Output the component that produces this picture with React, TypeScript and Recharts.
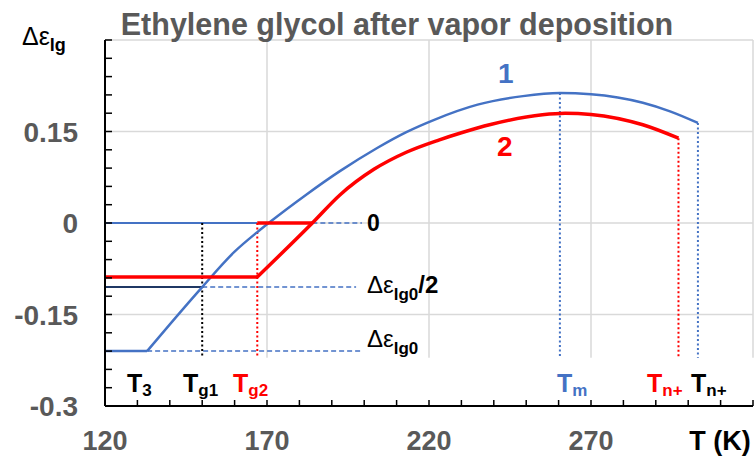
import React from 'react';
import { ComposedChart, Line, XAxis, YAxis, ReferenceLine } from 'recharts';

// Curve 1 (blue): flat part then rising branch
const curve1FlatT = [120, 133];
const curve1FlatE = [-0.21, -0.21];
const curve1T = [133, 150, 160, 167, 171, 182, 192.5, 204, 213, 222, 235, 249, 260.4, 270, 286, 294.4, 303];
const curve1E = [-0.21, -0.105, -0.047, -0.015, 0.002, 0.046, 0.085, 0.123, 0.149, 0.17, 0.194, 0.208, 0.213, 0.211, 0.197, 0.183, 0.164];
// Curve 2 (red): flat part then rising branch
const curve2FlatT = [120, 167];
const curve2FlatE = [-0.0885, -0.0885];
const curve2T = [167, 184, 192.5, 203, 213, 223, 230, 239, 255, 262, 270, 286, 297];
const curve2E = [-0.0885, 0, 0.046, 0.088, 0.116, 0.136, 0.148, 0.1615, 0.1775, 0.18, 0.178, 0.161, 0.139];
// red plateau at zero
const red0T = [167, 184];
const red0E = [0, 0];

// Characteristic temperatures
const T3 = 133;
const Tg1 = 150;
const Tg2 = 167;
const Tm = 260.4;
const TnRed = 297;
const TnBlue = 303;
const dEps0 = -0.21;
const dEpsHalf = -0.105;
const dashEnd = 199.3;
const dottedBottom = -0.221;

const xTicks = [120, 130, 140, 150, 160, 170, 180, 190, 200, 210, 220, 230, 240, 250, 260, 270, 280, 290, 300, 310, 320];
const xLabels: Record<number, string> = { 120: '120', 170: '170', 220: '220', 270: '270', 320: 'T (K)' };
const yTicks = [-0.3, -0.27, -0.24, -0.21, -0.18, -0.15, -0.12, -0.09, -0.06, -0.03, 0, 0.03, 0.06, 0.09, 0.12, 0.15, 0.18, 0.21, 0.24, 0.27, 0.3];
const yLabels: [number, string][] = [[0.15, '0.15'], [0, '0'], [-0.15, '-0.15'], [-0.3, '-0.3']];
const hGrid = [0.3, 0.15, 0, -0.15];
const vGrid = [170, 220, 270, 320];

const toPts = (xs: number[], ys: number[]) => xs.map((x, i) => ({ x, y: ys[i] }));
const curve1Flat = toPts(curve1FlatT, curve1FlatE);
const curve1 = toPts(curve1T, curve1E);
const curve2Flat = toPts(curve2FlatT, curve2FlatE);
const curve2 = toPts(curve2T, curve2E);
const red0 = toPts(red0T, red0E);

const BLUE = '#4472C4';
const RED = '#FF0000';
const GREY = '#595959';
const GRID = '#D9D9D9';
const FONT = '"Liberation Sans", Arial, sans-serif';

const XTick = (props: any) => {
  const { x, y, payload } = props;
  const v = payload.value;
  const label = xLabels[v];
  const isUnit = v === 320;
  return (
    <g>
      <line x1={x} y1={y} x2={x} y2={y - 6} stroke="#000" strokeWidth={1.5} />
      {label && (
        <text x={isUnit ? x - 33 : x} y={y + 44} textAnchor="middle" fontFamily={FONT} fontWeight="bold" fontSize={27} fill={isUnit ? '#000' : GREY}>
          {label}
        </text>
      )}
    </g>
  );
};

const YTick = (props: any) => {
  const { x, y, payload } = props;
  const v = payload.value;
  const found = yLabels.find((l) => Math.abs(l[0] - v) < 1e-6);
  return (
    <g>
      <line x1={x} y1={y} x2={x + 7} y2={y} stroke="#000" strokeWidth={1.5} />
      {found && (
        <text x={x - 27} y={y + 10} textAnchor="end" fontFamily={FONT} fontWeight="bold" fontSize={28} fill={GREY}>
          {found[1]}
        </text>
      )}
    </g>
  );
};

const Sub = ({ x, y, main, sub, color, mainSize = 25, subSize = 17, dy = 4, mainBold = true }: any) => (
  <text x={x} y={y} fontFamily={FONT} fill={color}>
    <tspan fontWeight={mainBold ? 'bold' : 'normal'} fontSize={mainSize}>{main}</tspan>
    <tspan fontWeight="bold" fontSize={subSize} dy={dy}>{sub}</tspan>
  </text>
);

export default function App() {
  return (
    <div style={{ position: 'absolute', left: 0, top: 0, width: 754, height: 456, background: '#fff' }}>
      <ComposedChart width={754} height={456} margin={{ top: 40, right: 1, bottom: 0, left: 0 }}>
        <XAxis
          dataKey="x"
          type="number"
          domain={[120, 320]}
          ticks={xTicks}
          interval={0}
          tickSize={0}
          tickMargin={0}
          tickLine={false}
          height={50}
          axisLine={{ stroke: '#000', strokeWidth: 2 }}
          tick={<XTick />}
          allowDataOverflow
        />
        <YAxis
          type="number"
          domain={[-0.3, 0.3]}
          ticks={yTicks}
          interval={0}
          tickSize={0}
          tickMargin={0}
          tickLine={false}
          width={105}
          axisLine={{ stroke: '#000', strokeWidth: 2 }}
          tick={<YTick />}
          allowDataOverflow
        />
        {hGrid.map((g) => (
          <ReferenceLine key={'h' + g} y={g} stroke={GRID} strokeWidth={1.5} />
        ))}
        {vGrid.map((g) => (
          <ReferenceLine key={'v' + g} segment={[{ x: g, y: dottedBottom }, { x: g, y: 0.3 }]} stroke={GRID} strokeWidth={1.5} />
        ))}
        {/* horizontal helper lines */}
        <ReferenceLine segment={[{ x: 120, y: 0 }, { x: Tg2, y: 0 }]} stroke={BLUE} strokeWidth={2} />
        <ReferenceLine segment={[{ x: 184, y: 0 }, { x: dashEnd, y: 0 }]} stroke={BLUE} strokeWidth={1.5} strokeDasharray="5 3" />
        <ReferenceLine segment={[{ x: 120, y: dEpsHalf }, { x: Tg1, y: dEpsHalf }]} stroke="#1F3864" strokeWidth={2} />
        <ReferenceLine segment={[{ x: Tg1, y: dEpsHalf }, { x: 197.5, y: dEpsHalf }]} stroke={BLUE} strokeWidth={1.5} strokeDasharray="5 3" />
        <ReferenceLine segment={[{ x: T3, y: dEps0 }, { x: dashEnd, y: dEps0 }]} stroke={BLUE} strokeWidth={1.5} strokeDasharray="5 3" />
        {/* vertical dotted lines */}
        <ReferenceLine segment={[{ x: Tg1, y: 0 }, { x: Tg1, y: dottedBottom }]} stroke="#000" strokeWidth={2} strokeDasharray="2 2.5" />
        <ReferenceLine segment={[{ x: Tg2, y: 0 }, { x: Tg2, y: dottedBottom }]} stroke={RED} strokeWidth={2} strokeDasharray="2 2.5" />
        <ReferenceLine segment={[{ x: Tm, y: 0.213 }, { x: Tm, y: dottedBottom }]} stroke={BLUE} strokeWidth={2} strokeDasharray="2 2.5" />
        <ReferenceLine segment={[{ x: TnRed, y: 0.139 }, { x: TnRed, y: dottedBottom }]} stroke={RED} strokeWidth={2} strokeDasharray="2 2.5" />
        <ReferenceLine segment={[{ x: TnBlue, y: 0.164 }, { x: TnBlue, y: dottedBottom }]} stroke={BLUE} strokeWidth={2} strokeDasharray="2 2.5" />
        <Line data={curve1Flat} dataKey="y" type="linear" stroke={BLUE} strokeWidth={2.5} dot={false} isAnimationActive={false} />
        <Line data={curve1} dataKey="y" type="monotone" stroke={BLUE} strokeWidth={2.5} dot={false} isAnimationActive={false} />
        <Line data={curve2Flat} dataKey="y" type="linear" stroke={RED} strokeWidth={3.5} dot={false} isAnimationActive={false} />
        <Line data={curve2} dataKey="y" type="monotone" stroke={RED} strokeWidth={3.5} dot={false} isAnimationActive={false} />
        <Line data={red0} dataKey="y" type="linear" stroke={RED} strokeWidth={3.5} dot={false} isAnimationActive={false} />
      </ComposedChart>
      <svg width={754} height={456} style={{ position: 'absolute', left: 0, top: 0, pointerEvents: 'none' }}>
        <text x={397} y={35} textAnchor="middle" fontFamily={FONT} fontWeight="bold" fontSize={30.5} fill={GREY}>
          Ethylene glycol after vapor deposition
        </text>
        <Sub x={22} y={45} main="Δε" sub="lg" color="#000" mainSize={25} subSize={18} dy={6} mainBold={false} />
        <text x={498} y={83} fontFamily={FONT} fontWeight="bold" fontSize={28} fill={BLUE}>1</text>
        <text x={497} y={156} fontFamily={FONT} fontWeight="bold" fontSize={28} fill={RED}>2</text>
        <text x={367} y={231} fontFamily={FONT} fontWeight="bold" fontSize={23} fill="#000">0</text>
        <text x={367} y={293} fontFamily={FONT} fill="#000">
          <tspan fontSize={24}>Δε</tspan>
          <tspan fontWeight="bold" fontSize={17} dy={7}>lg0</tspan>
          <tspan fontWeight="bold" fontSize={24} dy={-7}>/2</tspan>
        </text>
        <Sub x={367} y={347} main="Δε" sub="lg0" color="#000" mainSize={24} subSize={17} dy={7} mainBold={false} />
        <Sub x={127} y={392} main="T" sub="3" color="#000" />
        <Sub x={183} y={392} main="T" sub="g1" color="#000" />
        <Sub x={233} y={392} main="T" sub="g2" color={RED} />
        <Sub x={557} y={392} main="T" sub="m" color={BLUE} />
        <Sub x={647} y={392} main="T" sub="n+" color={RED} />
        <Sub x={691} y={392} main="T" sub="n+" color="#000" />
      </svg>
    </div>
  );
}
